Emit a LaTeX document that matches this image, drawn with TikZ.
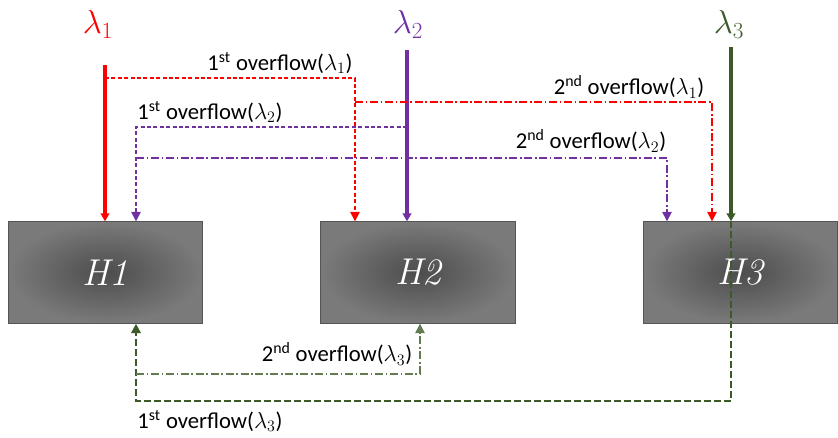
\documentclass[tikz,border=0pt]{standalone}
\usepackage{fontspec}
\setsansfont{Carlito}
\usetikzlibrary{arrows.meta, positioning, calc}
\definecolor{cred}{HTML}{FF0000}
\definecolor{cpurple}{HTML}{7030A0}
\definecolor{cgreen}{HTML}{3B5A27}
\definecolor{cedge}{HTML}{555555}
\tikzset{
  every picture/.style={font=\sffamily, x=0.75pt, y=-0.75pt},
  host/.style={draw=cedge, line width=0.8pt, inner color=black!70, outer color=black!52,
    minimum width=146pt, minimum height=76pt, text=white,
    font=\rmfamily\itshape\fontsize{28}{28}\selectfont},
  rate/.style={text=#1, font=\fontsize{23}{23}\selectfont},
  inflow/.style={-{Triangle[length=6pt, width=6.5pt]}, draw=#1, line width=2.8pt},
  first/.style={-{Triangle[length=7pt, width=7pt]}, draw=#1, line width=1.1pt, dash pattern=on 3pt off 1.8pt},
  second/.style={-{Triangle[length=7pt, width=7pt]}, draw=#1, line width=1.1pt, dash pattern=on 6pt off 2pt on 1.2pt off 2pt},
  tag/.style={font=\sffamily\fontsize{17}{17}\selectfont},
}
\begin{document}
\begin{tikzpicture}
  \useasboundingbox (0,0) rectangle (838,437);
  % hosts
  \node[host] (h1) at (105.5,272.5) {H1};
  \node[host] (h2) at (418,272.5) {H2};
  \node[host] (h3) at (740.5,272.5) {H3};
  % arrival rates
  \node[rate=cred] (l1) at (98,24) {$\lambda_1$};
  \node[rate=cpurple] (l2) at (408,24) {$\lambda_2$};
  \node[rate=cgreen] (l3) at (729,24) {$\lambda_3$};
  \coordinate (s1) at (105,65);
  \coordinate (s2) at (407,50);
  \coordinate (s3) at (731,47);
  \draw[inflow=cred] (s1) -- (s1 |- h1.north);
  \draw[inflow=cpurple] (s2) -- (s2 |- h2.north);
  \draw[inflow=cgreen] (s3) -- (s3 |- h3.north);
  % overflow routes
  \coordinate (r1) at (105,78);
  \coordinate (r2) at (355,102);
  \coordinate (p1) at (407,127);
  \coordinate (p2) at (136,158);
  \coordinate (g1) at (136,401);
  \coordinate (g2) at (136,374);
  \draw[first=cred] (r1) -| (355,0 |- h2.north);
  \draw[second=cred] (r2) -| (712,0 |- h3.north);
  \draw[first=cpurple] (p1) -| (136,0 |- h1.north);
  \draw[second=cpurple] (p2) -| (667,0 |- h3.north);
  \draw[first=cgreen, line width=2pt, dash pattern=on 5pt off 2.5pt] (s3 |- h3.north) |- (g1) -- (g1 |- h1.south);
  \draw[second=cgreen!80] (g2) -| (420,0 |- h2.south);
  % labels
  \node[tag] (o11) at (280,63) {1\textsuperscript{st} overflow($\lambda_1$)};
  \node[tag] (o12) at (210,112) {1\textsuperscript{st} overflow($\lambda_2$)};
  \node[tag] (o21) at (629,87) {2\textsuperscript{nd} overflow($\lambda_1$)};
  \node[tag] (o22) at (591,141) {2\textsuperscript{nd} overflow($\lambda_2$)};
  \node[tag] (o23) at (337,354) {2\textsuperscript{nd} overflow($\lambda_3$)};
  \node[tag] (o13) at (210,421) {1\textsuperscript{st} overflow($\lambda_3$)};
\end{tikzpicture}
\end{document}
